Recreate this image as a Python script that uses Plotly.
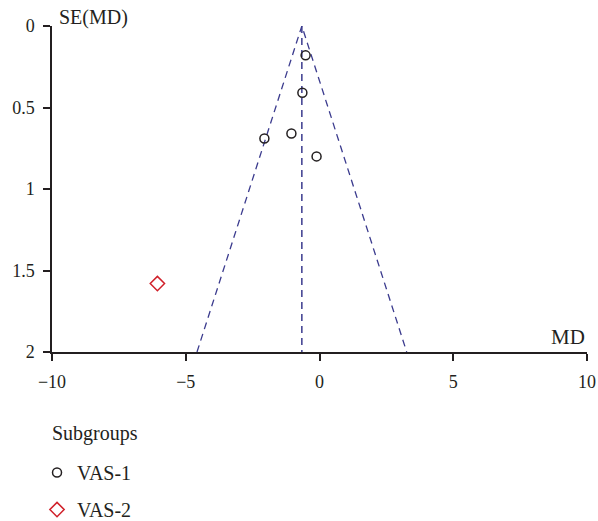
import plotly.graph_objects as go

# Data
vas1_md = [-0.52, -0.64, -2.06, -1.05, -0.11]
vas1_se = [0.18, 0.41, 0.69, 0.66, 0.80]
vas2_md = [-6.06]
vas2_se = [1.58]
pooled_md = -0.66
se_max = 2.0

x_tickvals = [-10, -5, 0, 5, 10]
x_ticktext = ["\u221210", "\u22125", "0", "5", "10"]
y_tickvals = [0, 0.5, 1, 1.5, 2]
y_ticktext = ["0", "0.5", "1", "1.5", "2"]

FONT = "Liberation Serif"
TXT = "#231f20"
NAVY = "#3b3b8e"

fig = go.Figure()

# funnel lines (pseudo 95% CI) and pooled estimate line
fig.add_trace(go.Scatter(
    x=[pooled_md - 1.96 * se_max, pooled_md, pooled_md + 1.96 * se_max],
    y=[se_max, 0, se_max], mode="lines",
    line=dict(color=NAVY, width=1.3, dash="7px,5px"),
    showlegend=False, hoverinfo="skip"))
fig.add_trace(go.Scatter(
    x=[pooled_md, pooled_md], y=[0, se_max], mode="lines",
    line=dict(color=NAVY, width=1.5, dash="7px,5px"),
    showlegend=False, hoverinfo="skip"))

fig.add_trace(go.Scatter(
    x=vas1_md, y=vas1_se, mode="markers", name="VAS-1",
    legendgroup="a",
    marker=dict(symbol="circle-open", size=9, color="#231f20", line=dict(width=1.5)),
    cliponaxis=False))
fig.add_trace(go.Scatter(
    x=vas2_md, y=vas2_se, mode="markers", name="VAS-2",
    legendgroup="b",
    marker=dict(symbol="diamond-open", size=11, color="#d0202a", line=dict(width=1.5)),
    cliponaxis=False))

axis_common = dict(showgrid=False, zeroline=False, showline=True, automargin=False,
                   linecolor=TXT, linewidth=1.5, tickcolor=TXT, tickwidth=1.5)

fig.update_layout(
    width=598, height=521,
    margin=dict(l=52, r=11, t=26, b=169, autoexpand=False),
    plot_bgcolor="white", paper_bgcolor="white",
    font=dict(family=FONT, size=18, color=TXT),
    xaxis=dict(range=[-10, 10], tickvals=x_tickvals, ticktext=x_ticktext,
               ticks="outside", ticklen=7, ticklabelstandoff=6,
               tickfont=dict(size=18), **axis_common),
    yaxis=dict(range=[2, 0], tickvals=y_tickvals, ticktext=y_ticktext,
               ticks="outside", ticklen=7, ticklabelstandoff=5,
               tickfont=dict(size=18), **axis_common),
    xaxis2=dict(range=[-10, 10], tickvals=x_tickvals, overlaying="x", anchor="y",
                side="bottom", ticks="inside", ticklen=7, showticklabels=False,
                **axis_common),
    yaxis2=dict(range=[2, 0], tickvals=y_tickvals, overlaying="y", anchor="x",
                side="left", ticks="inside", ticklen=7, showticklabels=False,
                **axis_common),
    legend=dict(x=-0.028, y=-0.31, xanchor="left", yanchor="top",
                traceorder="grouped", tracegroupgap=8,
                font=dict(size=20), itemwidth=30, bgcolor="rgba(0,0,0,0)"),
    annotations=[
        dict(text="SE(MD)", x=0, y=1, xref="paper", yref="paper",
             xanchor="left", yanchor="middle", xshift=5, yshift=9,
             showarrow=False, font=dict(size=20)),
        dict(text="MD", x=1, y=0, xref="paper", yref="paper",
             xanchor="right", yanchor="bottom", xshift=0, yshift=1,
             showarrow=False, font=dict(size=21)),
        dict(text="Subgroups", x=0, y=-(433 - 352) / 326, xref="paper", yref="paper",
             xanchor="left", yanchor="middle", xshift=-2,
             showarrow=False, font=dict(size=20)),
    ],
)

fig.write_html("out.html")
